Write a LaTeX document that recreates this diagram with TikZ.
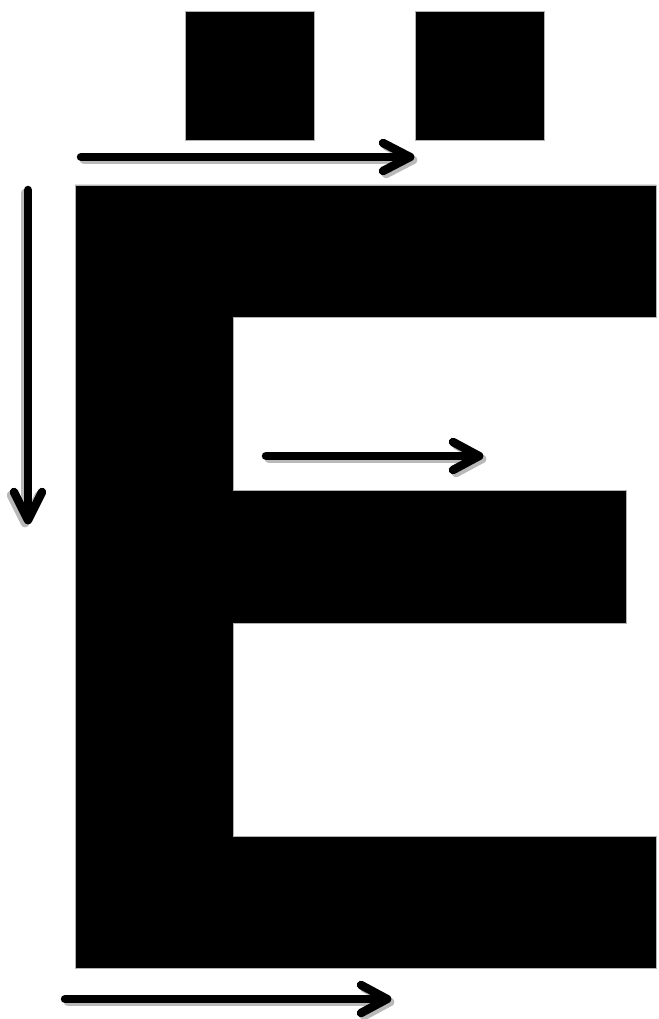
\documentclass[tikz,border=0pt]{standalone}
\tikzset{
  blackshape/.style={fill=black, draw=gray!60, line width=0.8pt},
  arrline/.style={line width=8.5pt, line cap=round, line join=round},
  shadowline/.style={arrline, draw=gray!55},
  mainline/.style={arrline, draw=black}
}
\newcommand{\myarrow}[5]{% start, tip, arm1, arm2, shadow shift
  \begin{scope}[shift={#5}]
    \draw[shadowline] #1 -- #2;
    \draw[shadowline] #3 -- #2 -- #4;
  \end{scope}
  \draw[mainline] #1 -- #2;
  \draw[mainline] #3 -- #2 -- #4;
}
\begin{document}
\begin{tikzpicture}[x=1pt,y=-1pt]
\useasboundingbox (0,0) rectangle (658,1019);
% dots
\path[blackshape] (185,11) rectangle (314,140);
\path[blackshape] (415,11) rectangle (544,140);
% letter E
\path[blackshape] (75,185) -- (656,185) -- (656,317) -- (233,317) -- (233,490) -- (626,490) -- (626,623) -- (233,623) -- (233,836) -- (656,836) -- (656,968) -- (75,968) -- cycle;
% arrows
\myarrow{(81,157)}{(410,157)}{(383,143)}{(383,171)}{(3,3)}
\myarrow{(28,190)}{(28,520)}{(14,492)}{(42,492)}{(-3,3)}
\myarrow{(266,456)}{(479,456)}{(453,442)}{(453,470)}{(3,3)}
\myarrow{(65,999)}{(387,999)}{(361,985)}{(361,1013)}{(3,3)}
\end{tikzpicture}
\end{document}
